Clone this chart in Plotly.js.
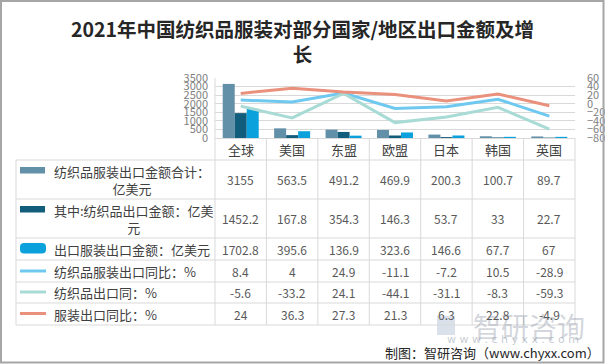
<!DOCTYPE html>
<html>
<head>
<meta charset="utf-8">
<script src="https://cdn.plot.ly/plotly-3.0.1.min.js"></script>
<style>html,body{margin:0;padding:0;background:#fff;}#chart{width:605px;height:364px;}</style>
</head>
<body>
<div id="chart"></div>
<script>
const categories = ['全球','美国','东盟','欧盟','日本','韩国','英国'];
const totalExport = [3155, 563.5, 491.2, 469.9, 200.3, 100.7, 89.7];
const textileExport = [1452.2, 167.8, 354.3, 146.3, 53.7, 33, 22.7];
const apparelExport = [1702.8, 395.6, 136.9, 323.6, 146.6, 67.7, 67];
const totalYoY = [8.4, 4, 24.9, -11.1, -7.2, 10.5, -28.9];
const textileYoY = [-5.6, -33.2, 24.1, -44.1, -31.1, -8.3, -59.3];
const apparelYoY = [24, 36.3, 27.3, 21.3, 6.3, 22.8, -4.9];
const seriesNames = ['纺织品服装出口金额合计：<br>亿美元','其中:纺织品出口金额：亿美<br>元','出口服装出口金额：亿美元','纺织品服装出口同比：%','纺织品出口同：%','服装出口同比：%'];
const titleText = '2021年中国纺织品服装对部分国家/地区出口金额及增<br>长';

const C = {bar1:'#6390a9', bar2:'#125c7c', bar3:'#0ba1dc', l1:'#6fc8ef', l2:'#a8dbd5', l3:'#ea917d', grid:'#d9d9d9'};
const W = 605, H = 364, L = 215, R = 575, T = 78, B = 138;
const px = x => (x - L) / (R - L);
const py = y => (B - y) / (B - T);
const colW = (R - L) / categories.length;

const traces = [
  {type:'bar', x:categories, y:totalExport, marker:{color:C.bar1}, yaxis:'y', hoverinfo:'none'},
  {type:'bar', x:categories, y:textileExport, marker:{color:C.bar2}, yaxis:'y', hoverinfo:'none'},
  {type:'bar', x:categories, y:apparelExport, marker:{color:C.bar3}, yaxis:'y', hoverinfo:'none'},
  {type:'scatter', mode:'lines', x:categories, y:totalYoY, line:{color:C.l1, width:3}, yaxis:'y2'},
  {type:'scatter', mode:'lines', x:categories, y:textileYoY, line:{color:C.l2, width:3}, yaxis:'y2'},
  {type:'scatter', mode:'lines', x:categories, y:apparelYoY, line:{color:C.l3, width:3}, yaxis:'y2'}
];

const shapes = [];
const annotations = [];
const line = (x0,y0,x1,y1,color,width) => shapes.push({type:'line', xref:'paper', yref:'paper', x0:px(x0), y0:py(y0), x1:px(x1), y1:py(y1), line:{color:color, width:width}});

// table grid
const rowLines = [160, 199, 238, 260, 282, 303, 325];
rowLines.forEach(y => line(16, y, R, y, C.grid, 1));
line(16, 160, 16, 325, C.grid, 1);
for (let i = 1; i <= categories.length; i++) line(L + i*colW, B, L + i*colW, 325, C.grid, 1);
line(L, T, L, 325, C.grid, 1);

// header labels
const tf = {family:'"Noto Sans CJK SC", "Microsoft YaHei", sans-serif', size:13, color:'#404040'};
const vf = {family:'"Noto Sans CJK SC", "Microsoft YaHei", sans-serif', size:12, color:'#595959'};
categories.forEach((c,i) => annotations.push({xref:'paper', yref:'paper', x:px(L+(i+0.5)*colW), y:py(149.5), text:c, showarrow:false, xanchor:'center', yanchor:'middle', font:tf}));

// watermark (drawn before table values)
rect0 = null;
shapes.push({type:'rect', xref:'paper', yref:'paper', x0:px(437), y0:py(316), x1:px(455), y1:py(335), fillcolor:'rgba(150,170,195,0.35)', line:{width:0}, layer:'below'});
annotations.push({xref:'paper', yref:'paper', x:px(529), y:py(326), text:'智研咨询', showarrow:false, xanchor:'center', yanchor:'middle', font:{family:'"Noto Sans CJK SC", sans-serif', size:28, color:'rgba(140,150,165,0.4)'}});
annotations.push({xref:'paper', yref:'paper', x:px(513), y:py(339), text:'w w w . c h y x x . c o m', showarrow:false, xanchor:'center', yanchor:'middle', font:{family:'"DejaVu Sans", sans-serif', size:11, color:'rgba(140,150,165,0.5)'}});

// rows
const rowCenters = [179.5, 218.5, 249, 271, 292.5, 314];
const rowData = [totalExport, textileExport, apparelExport, totalYoY, textileYoY, apparelYoY];
rowData.forEach((arr, r) => arr.forEach((v, i) => annotations.push({xref:'paper', yref:'paper', x:px(L+(i+0.5)*colW), y:py(rowCenters[r]), text:String(v), showarrow:false, xanchor:'center', yanchor:'middle', font:vf})));

// legend labels
seriesNames.forEach((n, r) => annotations.push({xref:'paper', yref:'paper', x:px(52), y:py(rowCenters[r]), text:n, showarrow:false, xanchor:'left', yanchor:'middle', align:'center', font:tf}));

// swatches
const rect = (x0,y0,x1,y1,color) => shapes.push({type:'rect', xref:'paper', yref:'paper', x0:px(x0), y0:py(y0), x1:px(x1), y1:py(y1), fillcolor:color, line:{width:0}});
rect(20, 167, 45, 173.5, C.bar1);
rect(20, 206, 45, 212.5, C.bar2);
shapes.push({type:'path', xref:'paper', yref:'paper', fillcolor:C.bar3, line:{width:0},
  path:`M ${px(24)} ${py(243)} L ${px(42)} ${py(243)} Q ${px(46)} ${py(243)} ${px(46)} ${py(247)} L ${px(46)} ${py(249.5)} Q ${px(46)} ${py(253.5)} ${px(42)} ${py(253.5)} L ${px(24)} ${py(253.5)} Q ${px(20)} ${py(253.5)} ${px(20)} ${py(249.5)} L ${px(20)} ${py(247)} Q ${px(20)} ${py(243)} ${px(24)} ${py(243)} Z`});
line(20, 271, 46, 271, C.l1, 3);
line(20, 292, 46, 292, C.l2, 3);
line(20, 313.5, 46, 313.5, C.l3, 3);

// source
annotations.push({xref:'paper', yref:'paper', x:px(602), y:py(352), text:'制图：智研咨询（www.chyxx.com）', showarrow:false, xanchor:'right', yanchor:'middle', font:{family:'"Noto Sans CJK SC", sans-serif', size:13, color:'#262626'}});

// outer border
shapes.push({type:'rect', xref:'paper', yref:'paper', x0:px(1), y0:py(1), x1:px(603.5), y1:py(362.5), line:{color:'#a6a6a6', width:2}, layer:'above'});

const layout = {
  width:W, height:H,
  margin:{l:L, r:W-R, t:T, b:H-B, pad:0},
  paper_bgcolor:'#fff', plot_bgcolor:'#fff',
  showlegend:false,
  barmode:'group', bargap:0.3, bargroupgap:0,
  title:{text:titleText, x:0.5, xanchor:'center', y:1-37/H, yref:'container', yanchor:'middle',
    font:{family:'"Noto Sans CJK SC", "Liberation Serif", serif', size:19.5, color:'#262626', weight:'bold'}},
  xaxis:{type:'category', range:[-0.5, categories.length-0.5], showticklabels:false, showgrid:false, zeroline:false, showline:true, linecolor:C.grid, linewidth:1, ticks:''},
  yaxis:{range:[0,3500], dtick:500, tickformat:'d', showgrid:true, gridcolor:C.grid, zeroline:false, showline:false, ticks:'', ticklabelstandoff:6,
    tickfont:{family:'"Noto Sans CJK SC", sans-serif', size:11, color:'#7f7f7f'}},
  yaxis2:{range:[-80,60], dtick:20, tickformat:'d', overlaying:'y', side:'right', showgrid:false, zeroline:false, showline:false, ticks:'', ticklabelstandoff:11,
    tickfont:{family:'"Noto Sans CJK SC", sans-serif', size:11, color:'#7f7f7f'}},
  shapes:shapes, annotations:annotations
};

Plotly.newPlot('chart', traces, layout, {displayModeBar:false, staticPlot:true});
</script>
</body>
</html>
